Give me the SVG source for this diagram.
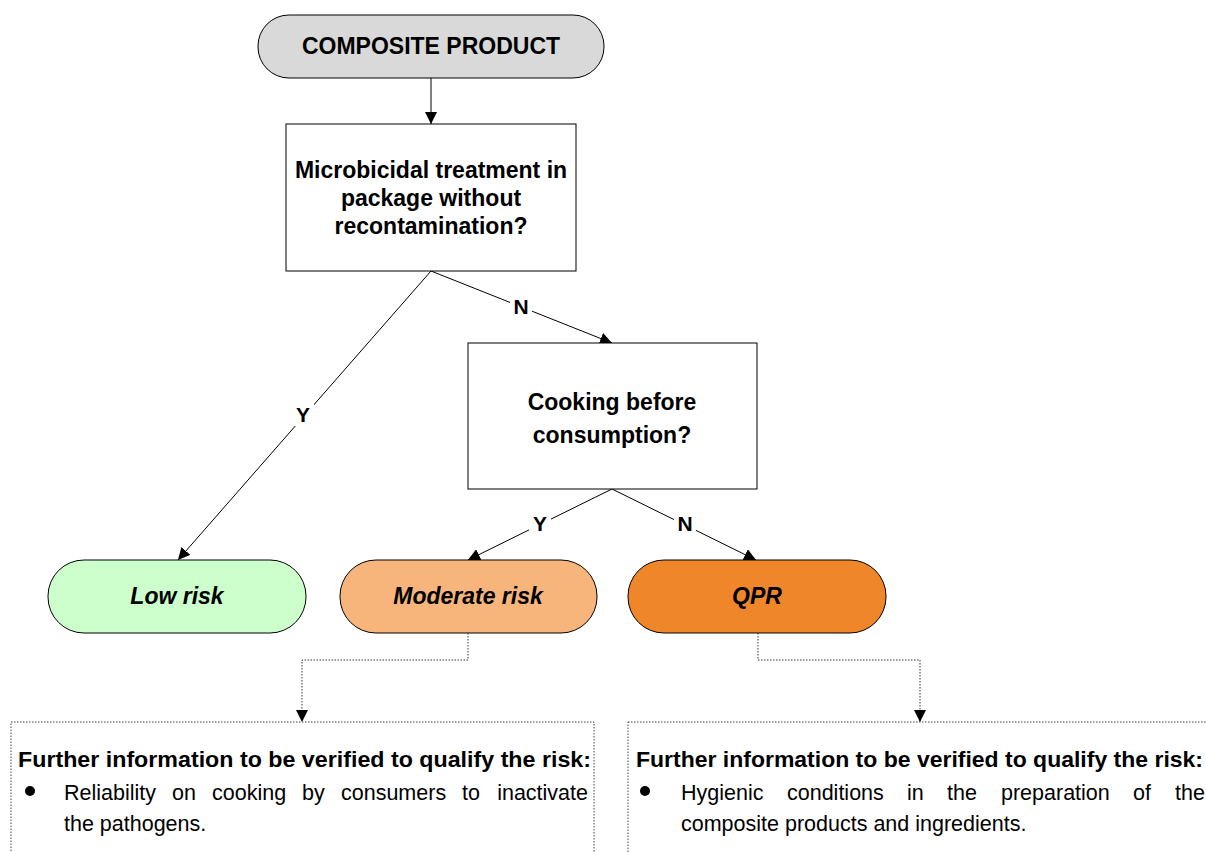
<svg xmlns="http://www.w3.org/2000/svg" width="1206" height="852" viewBox="0 0 1206 852">
  <style>
    .lbl { font-family: "Liberation Sans", Arial, sans-serif; font-weight: bold; font-size: 23px; fill: #000; text-anchor: middle; }
    .risk { font-family: "Liberation Sans", Arial, sans-serif; font-weight: bold; font-style: italic; font-size: 23px; fill: #000; text-anchor: middle; }
    .yn { font-family: "Liberation Sans", Arial, sans-serif; font-weight: bold; font-size: 21px; fill: #000; text-anchor: middle; }
    .head { font-family: "Liberation Sans", Arial, sans-serif; font-weight: bold; font-size: 22.5px; fill: #000; }
    .body { font-family: "Liberation Sans", Arial, sans-serif; font-size: 21.5px; fill: #000; }
    .box { fill: #fff; stroke: #000; stroke-width: 1; }
    .pill { stroke: #000; stroke-width: 1; }
    .edge { fill: none; stroke: #000; stroke-width: 1; }
    .dot { fill: none; stroke: #333; stroke-width: 1; stroke-dasharray: 1.5 1.5; }
    .note { fill: #fff; stroke: #444; stroke-width: 1; stroke-dasharray: 1.5 1.5; }
  </style>
  <defs>
    <marker id="arrow" viewBox="0 0 12 12" refX="12" refY="6" markerWidth="12" markerHeight="12" markerUnits="userSpaceOnUse" orient="auto">
      <path d="M0,0 L12,6 L0,12 Z" fill="#000"/>
    </marker>
  </defs>

  <rect width="1206" height="852" fill="#fff"/>

  <!-- connectors -->
  <g id="connectors">
    <line class="edge" x1="431" y1="78" x2="431" y2="124" marker-end="url(#arrow)"/>
    <line class="edge" x1="431" y1="271" x2="178" y2="560" marker-end="url(#arrow)"/>
    <line class="edge" x1="431" y1="271" x2="612" y2="343" marker-end="url(#arrow)"/>
    <line class="edge" x1="612" y1="489" x2="468" y2="560" marker-end="url(#arrow)"/>
    <line class="edge" x1="612" y1="489" x2="756" y2="560" marker-end="url(#arrow)"/>
    <polyline class="dot" points="468,633 468,660 302,660 302,722" marker-end="url(#arrow)"/>
    <polyline class="dot" points="758,633 758,660 920,660 920,722" marker-end="url(#arrow)"/>

    <!-- branch labels on white pads -->
    <rect x="510" y="294" width="22" height="24" fill="#fff"/>
    <text class="yn" x="521" y="314">N</text>
    <rect x="292" y="402" width="22" height="24" fill="#fff"/>
    <text class="yn" x="303" y="422">Y</text>
    <rect x="529" y="511" width="22" height="24" fill="#fff"/>
    <text class="yn" x="540" y="531">Y</text>
    <rect x="674" y="511" width="22" height="24" fill="#fff"/>
    <text class="yn" x="685" y="531">N</text>
  </g>

  <g id="start">
    <rect class="pill" x="258" y="15" width="346" height="63" rx="31" ry="31" fill="#d9d9d9"/>
    <text class="lbl" x="431" y="54">COMPOSITE PRODUCT</text>
  </g>

  <g id="q-microbicidal">
    <rect class="box" x="286" y="124" width="290" height="147"/>
    <text class="lbl" x="431" y="178">Microbicidal treatment in</text>
    <text class="lbl" x="431" y="206">package without</text>
    <text class="lbl" x="431" y="234">recontamination?</text>
  </g>

  <g id="q-cooking">
    <rect class="box" x="468" y="343" width="289" height="146"/>
    <text class="lbl" x="612" y="410">Cooking before</text>
    <text class="lbl" x="612" y="443">consumption?</text>
  </g>

  <g id="low-risk">
    <rect class="pill" x="48" y="560" width="258" height="73" rx="36" ry="36" fill="#ccffcc"/>
    <text class="risk" x="177" y="604">Low risk</text>
  </g>

  <g id="moderate-risk">
    <rect class="pill" x="340" y="560" width="257" height="73" rx="36" ry="36" fill="#f8b57b"/>
    <text class="risk" x="468" y="604">Moderate risk</text>
  </g>

  <g id="qpr">
    <rect class="pill" x="628" y="560" width="258" height="73" rx="36" ry="36" fill="#f0862a"/>
    <text class="risk" x="757" y="604">QPR</text>
  </g>

  <g id="note-moderate">
    <rect class="note" x="11" y="722" width="583" height="140"/>
    <text class="head" x="18" y="767" textLength="573" lengthAdjust="spacingAndGlyphs">Further information to be verified to qualify the risk:</text>
    <circle cx="30" cy="791" r="5" fill="#000"/>
    <!-- justified line: word gaps spread evenly -->
    <text class="body" y="800">
      <tspan x="64">Reliability</tspan>
      <tspan x="172">on</tspan>
      <tspan x="212">cooking</tspan>
      <tspan x="302">by</tspan>
      <tspan x="341">consumers</tspan>
      <tspan x="462">to</tspan>
      <tspan x="588" text-anchor="end">inactivate</tspan>
    </text>
    <text class="body" x="64" y="831">the pathogens.</text>
  </g>

  <g id="note-qpr">
    <rect class="note" x="628" y="722" width="600" height="140"/>
    <text class="head" x="636" y="767" textLength="567" lengthAdjust="spacingAndGlyphs">Further information to be verified to qualify the risk:</text>
    <circle cx="645" cy="791" r="5" fill="#000"/>
    <text class="body" y="800">
      <tspan x="681">Hygienic</tspan>
      <tspan x="787">conditions</tspan>
      <tspan x="907">in</tspan>
      <tspan x="947">the</tspan>
      <tspan x="1001">preparation</tspan>
      <tspan x="1133">of</tspan>
      <tspan x="1205" text-anchor="end">the</tspan>
    </text>
    <text class="body" x="681" y="831">composite products and ingredients.</text>
  </g>
</svg>
